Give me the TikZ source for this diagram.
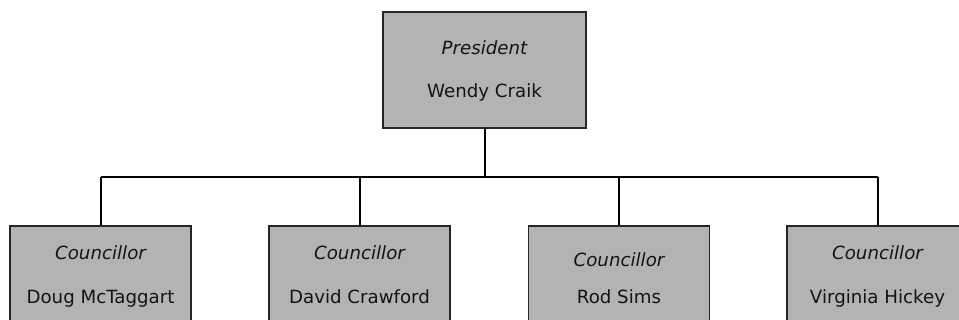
\documentclass[tikz,border=0pt]{standalone}
\usepackage{fontspec}
\setmainfont{DejaVu Sans}
\definecolor{boxgray}{RGB}{179,179,179}
\definecolor{txt}{RGB}{20,20,20}
\begin{document}
\begin{tikzpicture}[x=1pt,y=-1pt,
  box/.style={draw=black!85, line width=1.3pt, fill=boxgray, rectangle, inner sep=0pt},
  conn/.style={draw=black, line width=2pt},
  lbl/.style={anchor=base, inner sep=0pt, text=txt, font=\fontsize{18.2}{21}\selectfont}]
\useasboundingbox (0,0) rectangle (959,320);
\clip (0,0) rectangle (959,320);
% boxes
\node[box, minimum width=203pt, minimum height=116pt] (p) at (484.5,70) {};
\node[box, minimum width=181pt, minimum height=110pt] (c1) at (100.5,281) {};
\node[box, minimum width=181pt, minimum height=110pt] (c2) at (359.5,281) {};
\node[box, minimum width=181pt, minimum height=110pt] (c3) at (619,281) {};
\node[box, minimum width=181pt, minimum height=110pt] (c4) at (877.5,281) {};
% labels
\node[lbl] (pt) at (484.5,55) {\itshape President};
\node[lbl] (pn) at (484.5,97.7) {Wendy Craik};
\node[lbl] (t1) at (100.5,259.3) {\itshape Councillor};
\node[lbl] (n1) at (100.5,303.3) {Doug McTaggart};
\node[lbl] (t2) at (359.5,259.3) {\itshape Councillor};
\node[lbl] (n2) at (359.5,303.3) {David Crawford};
\node[lbl] (t3) at (619,266.7) {\itshape Councillor};
\node[lbl] (n3) at (619,303.3) {Rod Sims};
\node[lbl] (t4) at (877.5,259.3) {\itshape Councillor};
\node[lbl] (n4) at (877.5,303.3) {Virginia Hickey};
% connectors
\coordinate (busL) at (100.5,177);
\coordinate (busR) at (877.5,177);
\draw[conn] (busL) -- (busR);
\draw[conn] (p.south) -- (p.south |- busL);
\draw[conn] (c1.north) -- (c1.north |- busL);
\draw[conn] (c2.north) -- (c2.north |- busL);
\draw[conn] (c3.north) -- (c3.north |- busL);
\draw[conn] (c4.north) -- (c4.north |- busL);
\end{tikzpicture}
\end{document}
